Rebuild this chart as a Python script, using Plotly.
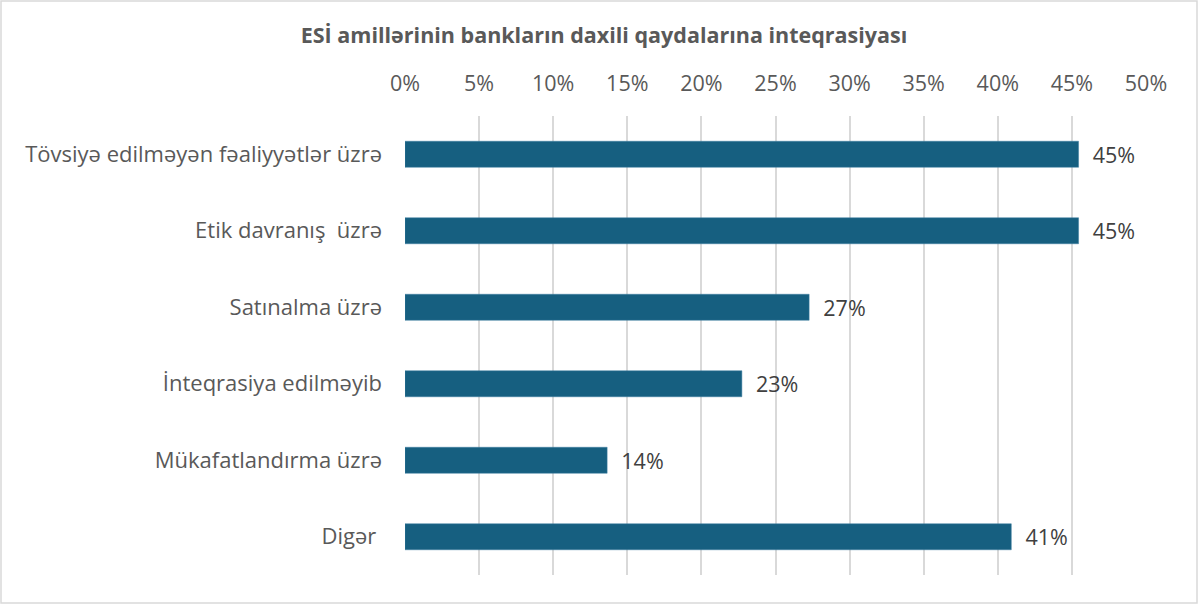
import plotly.graph_objects as go

categories = [
    "Tövsiyə edilməyən fəaliyyətlər üzrə",
    "Etik davranış  üzrə",
    "Satınalma üzrə",
    "İnteqrasiya edilməyib",
    "Mükafatlandırma üzrə",
    "Digər ",
]
values = [0.4545, 0.4545, 0.2727, 0.2273, 0.1364, 0.4091]
labels = ["45%", "45%", "27%", "23%", "14%", "41%"]
tick_vals = [0, 0.05, 0.10, 0.15, 0.20, 0.25, 0.30, 0.35, 0.40, 0.45, 0.50]
tick_text = ["0%", "5%", "10%", "15%", "20%", "25%", "30%", "35%", "40%", "45%", "50%"]

FONT = "Open Sans"
GREY = "#595959"
W, H = 1202, 605
FS = 21.5

fig = go.Figure(
    go.Bar(
        x=values,
        y=categories,
        orientation="h",
        marker=dict(color="#165f80", line=dict(color="#3f7fa0", width=0.5)),
        text=["  " + t for t in labels],
        textposition="outside",
        constraintext="none",
        textfont=dict(family=FONT, size=FS, color="#404040"),
        cliponaxis=False,
        width=0.34,
        hoverinfo="skip",
    )
)

fig.update_layout(
    width=W,
    height=H,
    paper_bgcolor="white",
    plot_bgcolor="white",
    margin=dict(l=405, r=56, t=116, b=30),
    showlegend=False,
    uniformtext=dict(mode=False),
    title=dict(
        text="<b>ESİ amillərinin bankların daxili qaydalarına inteqrasiyası</b>",
        x=(298 + 910) / 2 / W,
        xanchor="center",
        y=1 - 35 / H,
        yanchor="middle",
        font=dict(family=FONT, size=FS, color=GREY),
    ),
    xaxis=dict(
        side="top",
        range=[0, 0.5],
        tickvals=tick_vals,
        ticktext=tick_text,
        showgrid=True,
        gridcolor="#d9d9d9",
        gridwidth=1.5,
        zeroline=False,
        showline=False,
        ticks="",
        ticklabelstandoff=20,
        tickfont=dict(family=FONT, size=FS, color=GREY),
    ),
    yaxis=dict(
        autorange="reversed",
        showgrid=False,
        ticks="",
        showline=False,
        ticklabelstandoff=22,
        tickfont=dict(family=FONT, size=22, color=GREY),
    ),
    shapes=[
        dict(
            type="rect",
            xref="paper",
            yref="paper",
            x0=(1 - 405) / 741,
            x1=(1197 - 405) / 741,
            y0=(575 - 603) / 459,
            y1=(575 - 1) / 459,
            line=dict(color="#d9d9d9", width=1.5),
            fillcolor="rgba(0,0,0,0)",
            layer="below",
        )
    ],
)

fig.write_html(
    "out.html",
    config={"displayModeBar": False},
    post_script="document.body.style.margin='0';document.body.style.overflow='hidden';",
)
